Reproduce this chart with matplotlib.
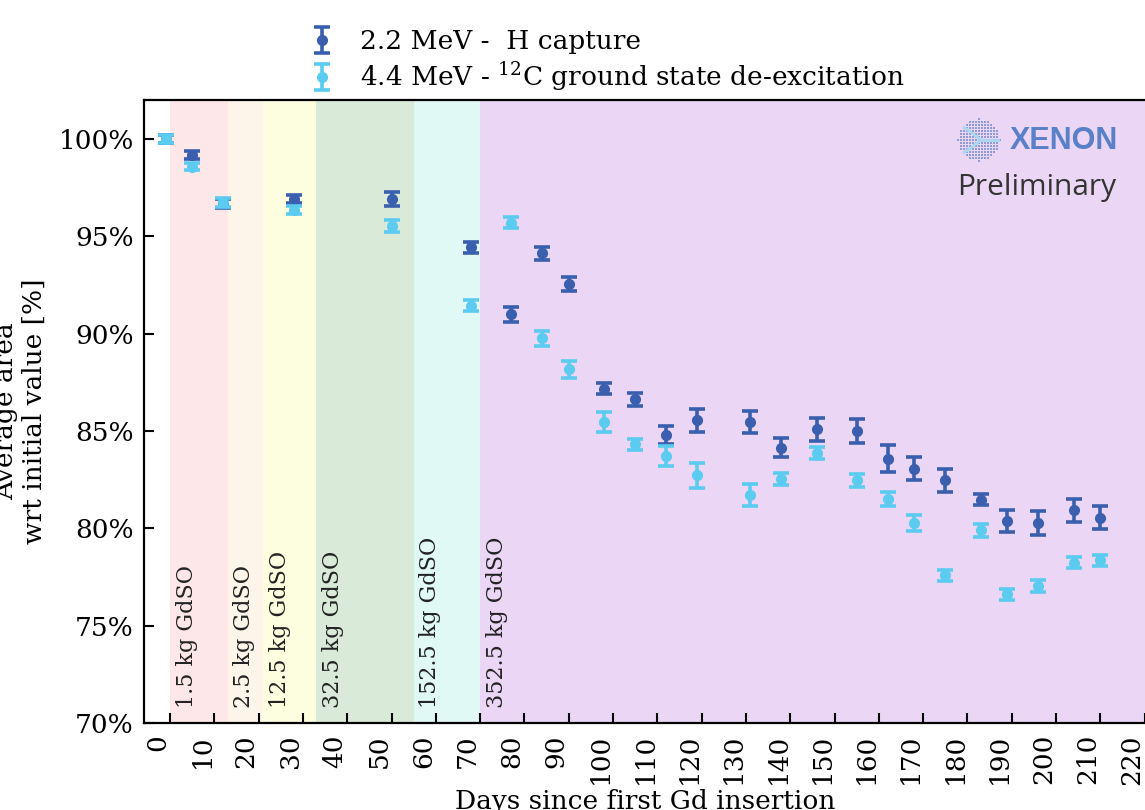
import numpy as np
import matplotlib
matplotlib.use("Agg")
import matplotlib.pyplot as plt

# Datos
days = [-1, 5, 12, 28, 50, 68, 77, 84, 90, 98, 105, 112, 119,
        131, 138, 146, 155, 162, 168, 175, 183, 189, 196, 204, 210]

h_capture = [100.0, 99.18, 96.70, 96.92, 96.92, 94.43, 91.00, 94.12, 92.54,
             87.18, 86.63, 84.78, 85.55, 85.47, 84.15, 85.09, 85.00, 83.58,
             83.07, 82.47, 81.47, 80.36, 80.27, 80.93, 80.55]
h_capture_err = [0.20, 0.22, 0.23, 0.21, 0.36, 0.27, 0.39, 0.34, 0.37, 0.30,
                 0.34, 0.47, 0.58, 0.57, 0.51, 0.60, 0.60, 0.69, 0.60, 0.58,
                 0.28, 0.57, 0.60, 0.59, 0.61]

c_deexc = [100.0, 98.58, 96.74, 96.35, 95.54, 91.43, 95.70, 89.75, 88.16,
           85.47, 84.32, 83.72, 82.72, 81.73, 82.52, 83.87, 82.47, 81.49,
           80.27, 77.58, 79.90, 76.61, 77.03, 78.24, 78.35]
c_deexc_err = [0.20, 0.20, 0.23, 0.19, 0.32, 0.28, 0.27, 0.41, 0.45, 0.50,
               0.29, 0.51, 0.64, 0.56, 0.32, 0.33, 0.34, 0.35, 0.42, 0.27,
               0.34, 0.28, 0.30, 0.27, 0.28]

# Periodos de insercion de Gd
period_start = [0, 13, 21, 33, 55, 70]
period_end = [13, 21, 33, 55, 70, 230]
period_labels = ['1.5 kg GdSO', '2.5 kg GdSO', '12.5 kg GdSO',
                 '32.5 kg GdSO', '152.5 kg GdSO', '352.5 kg GdSO']
period_colors = ['#fde7e8', '#fdf4ea', '#fdfddf', '#d9ead8', '#e0f9f4', '#ebd7f5']

x_ticks = list(range(0, 230, 10))
y_ticks = [70, 75, 80, 85, 90, 95, 100]

DARK = '#3a5fae'
LIGHT = '#5ccbf0'

plt.rcParams['font.family'] = 'DejaVu Serif'
plt.rcParams['mathtext.fontset'] = 'dejavuserif'
FS = 19

W, H = 1145, 810
fig = plt.figure(figsize=(W / 100, H / 100), dpi=100)
ax = fig.add_axes([143.5 / W, 1 - 723 / H, 1010 / W, 623 / H])

for x0, x1, col in zip(period_start, period_end, period_colors):
    ax.axvspan(x0, x1, color=col, lw=0, zorder=0)
for x0, lab in zip(period_start, period_labels):
    ax.text(x0 + 1.3, 70.75, lab, rotation=90, ha='left', va='bottom',
            fontsize=16, color='#222222', zorder=2)

eb_h = ax.errorbar(days, h_capture, yerr=h_capture_err, fmt='o', color=DARK,
                   ms=7, elinewidth=2.6, capsize=5.5, capthick=2.6, zorder=3,
                   label='2.2 MeV -  H capture')
eb_c = ax.errorbar(days, c_deexc, yerr=c_deexc_err, fmt='o', color=LIGHT,
                   ms=7, elinewidth=2.6, capsize=5.5, capthick=2.6, zorder=4,
                   label=r'4.4 MeV - $^{12}$C ground state de-excitation')

ax.set_xlim(-6, 222)
ax.set_ylim(70, 102)
ax.set_xticks(x_ticks)
ax.set_xticklabels([str(t) for t in x_ticks], rotation=90, ha='right',
                   va='top', fontsize=FS)
ax.set_yticks(y_ticks)
ax.set_yticklabels([f'{t}%' for t in y_ticks], fontsize=FS)
ax.tick_params(axis='both', direction='in', length=7, width=1.5)
ax.tick_params(axis='x', pad=8)
ax.tick_params(axis='y', pad=7)
for sp in ax.spines.values():
    sp.set_linewidth(1.6)

fig.text(20 / W, 1 - 411 / H, 'Average area\nwrt initial value [%]',
         rotation=90, ha='center', va='center', fontsize=FS,
         multialignment='center')
fig.text(645 / W, 1 - 789 / H, 'Days since first Gd insertion',
         ha='center', va='top', fontsize=FS)

fig.legend(handles=[eb_h, eb_c], loc='upper left',
           bbox_to_anchor=(310 / W, 1 - 29 / H), frameon=False,
           fontsize=FS, handlelength=0.9, handletextpad=1.0,
           borderpad=0, borderaxespad=0, labelspacing=0.25)

# Logo XENON + Preliminary
logo = fig.add_axes([957 / W, 1 - 162 / H, 44 / W, 44 / H])
logo.set_xlim(-1.05, 1.05)
logo.set_ylim(-1.05, 1.05)
logo.axis('off')
gx, gy = np.meshgrid(np.linspace(-1, 1, 15), np.linspace(-1, 1, 15))
inside = gx ** 2 + gy ** 2 <= 1.0
logo.scatter(gx[inside], gy[inside], s=3, marker='s', color='#8e9bd6', lw=0)
logo.plot([-0.7, 0.1, -0.7], [0.6, 0.0, -0.6], color='#a8d8f2', lw=2)
logo.plot([0.1, 0.9], [0.0, 0.0], color='#a8d8f2', lw=2)
fig.text(1010 / W, 1 - 141 / H, 'XENON', ha='left', va='center',
         fontsize=22, fontweight='bold', color='#5a80c8',
         family='Liberation Sans')
fig.text(1037 / W, 1 - 188 / H, 'Preliminary', ha='center', va='center',
         fontsize=21.5, color='#333333', family='Open Sans')

fig.savefig('out.png', dpi=100)
